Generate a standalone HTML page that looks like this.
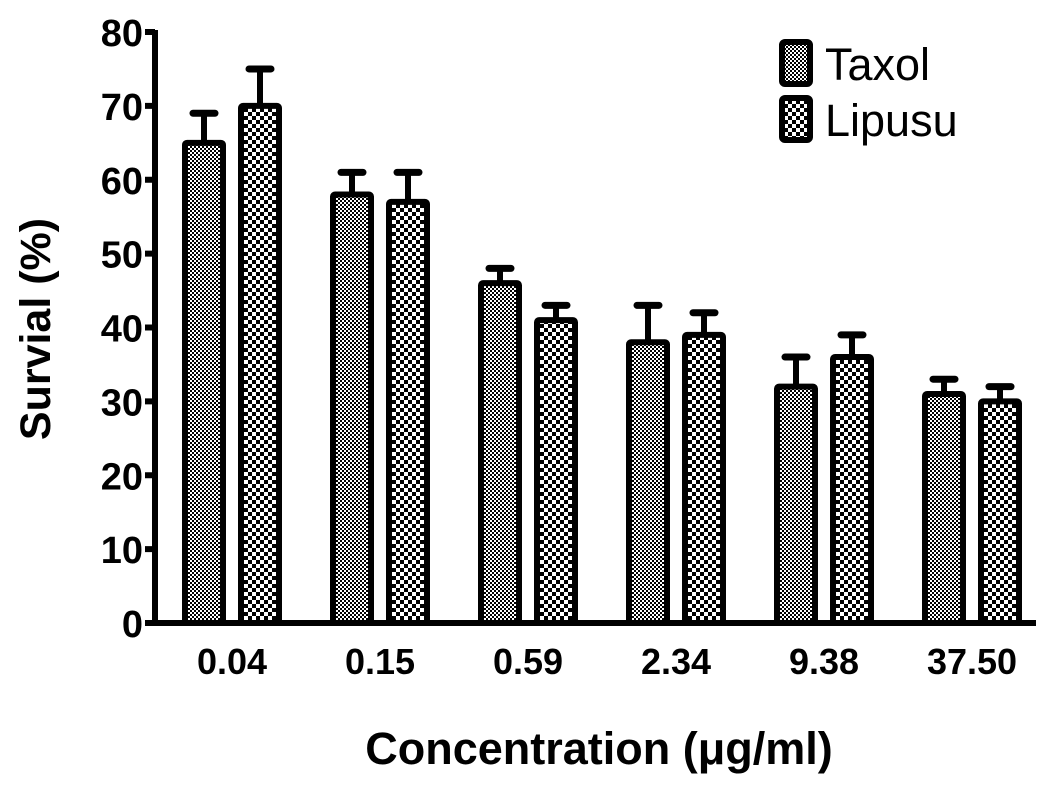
<!DOCTYPE html>
<html><head><meta charset="utf-8"><style>
html,body{margin:0;padding:0;background:#fff;}
svg{display:block;font-family:"Liberation Sans",Arial,sans-serif;}
</style></head><body>
<svg id="chart" width="1063" height="786" viewBox="0 0 1063 786">
<defs>
<pattern id="fine" width="4" height="4" patternUnits="userSpaceOnUse">
<rect width="4" height="4" fill="#fff"/><rect width="2" height="2" fill="#000"/><rect x="2" y="2" width="2" height="2" fill="#000"/>
</pattern>
<pattern id="coarse" width="8" height="8" patternUnits="userSpaceOnUse">
<rect width="8" height="8" fill="#fff"/><rect width="4" height="4" fill="#000"/><rect x="4" y="4" width="4" height="4" fill="#000"/>
</pattern>
</defs>
<g id="plot"></g>
<text x="50" y="329" transform="rotate(-90 50 329)" text-anchor="middle" font-size="43" font-weight="bold">Survial (%)</text>
<text x="599" y="764" text-anchor="middle" font-size="45" font-weight="bold">Concentration (μg/ml)</text>
<rect x="782" y="42" width="28" height="42" rx="3" fill="url(#fine)" stroke="#000" stroke-width="6"/>
<text x="825" y="80" font-size="45">Taxol</text>
<rect x="782" y="98" width="28" height="42" rx="3" fill="url(#coarse)" stroke="#000" stroke-width="6"/>
<text x="825" y="136" font-size="45">Lipusu</text>
</svg>
<script>
const categories=["0.04","0.15","0.59","2.34","9.38","37.50"];
const taxol=[65,58,46,38,32,31];
const taxolErr=[4,3,2,5,4,2];
const lipusu=[70,57,41,39,36,30];
const lipusuErr=[5,4,2,3,3,2];
const yTicks=[0,10,20,30,40,50,60,70,80];

const NS="http://www.w3.org/2000/svg";
const g=document.getElementById('plot');
const y0=623,y80=32;
const y=v=>y0-(y0-y80)*v/80;
const xc=i=>232+148*i;
function mk(t,a){const e=document.createElementNS(NS,t);for(const k in a)e.setAttribute(k,a[k]);g.appendChild(e);return e;}
let ax=mk('line',{x1:155,y1:y(80)-2,x2:155,y2:y0+3,stroke:'#000','stroke-width':6});


ax=mk('line',{x1:152,y1:y0,x2:1036,y2:y0,stroke:'#000','stroke-width':6});


yTicks.forEach(v=>{
 const t=mk('line',{x1:145,y1:y(v),x2:155,y2:y(v),stroke:'#000','stroke-width':6});
 
 
 const l=mk('text',{x:143,y:y(v)+14,'text-anchor':'end','font-size':38,'font-weight':'bold'});
 l.textContent=v;
 
 
});
function bar(cx,v,e,fill,name){
 const w=38;
 const eb=mk('line',{x1:cx,y1:y(v),x2:cx,y2:y(v+e),stroke:'#000','stroke-width':6});
 
 
 const cap=mk('line',{x1:cx-11,y1:y(v+e),x2:cx+11,y2:y(v+e),stroke:'#000','stroke-width':7,'stroke-linecap':'round'});
 
 
 const r=mk('rect',{x:cx-w/2,y:y(v),width:w,height:y0-y(v),fill:fill,stroke:'#000','stroke-width':6,rx:2});
 
 
}
categories.forEach((c,i)=>{
 bar(xc(i)-28,taxol[i],taxolErr[i],'url(#fine)','bar-taxol-'+c);
 bar(xc(i)+28,lipusu[i],lipusuErr[i],'url(#coarse)','bar-lipusu-'+c);
 const l=mk('text',{x:xc(i),y:674,'text-anchor':'middle','font-size':36,'font-weight':'bold'});
 l.textContent=c;
 
 
});
</script>
</body></html>
